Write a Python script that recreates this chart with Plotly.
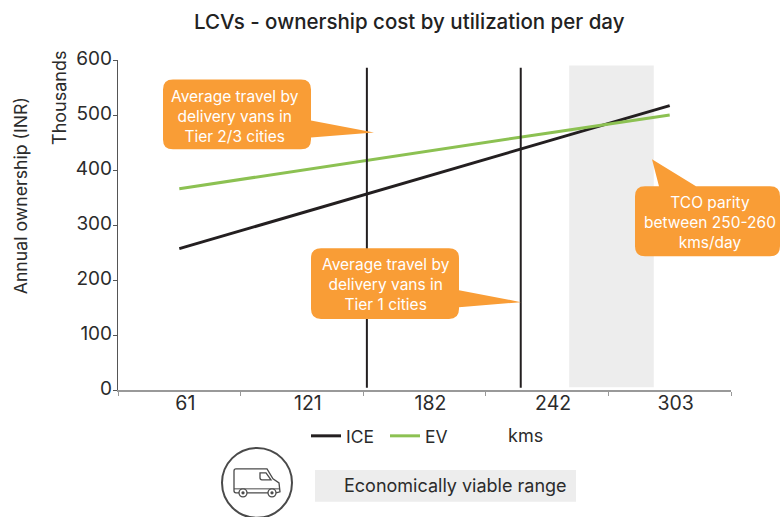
import plotly.graph_objects as go

# ---- data ----
title = "LCVs - ownership cost by utilization per day"
kms_labels = ["61", "121", "182", "242", "303"]
ice_values = [257, 322, 387, 452, 517]
ev_values = [366, 400, 433, 467, 500]
y_ticks = [0, 100, 200, 300, 400, 500, 600]
# vertical reference lines and shaded range, in category-axis units
tier2_x = 1.53
tier1_x = 2.785
ref_top = 586
ref_bottom = 4
band_x = [3.18, 3.87]
band_y = [5, 590]

W, H = 780, 517
L, R, T, B = 118, 731, 59.5, 390
FONT = "Inter, Liberation Sans, sans-serif"
INK = "#2b2b2b"
ORANGE = "#F99D36"
GREY = "#ededed"
BLACK = "#231f20"
GREEN = "#8cc152"


def px(x):
    return (x - L) / (R - L)


def py(y):
    return (B - y) / (B - T)


def P(x, y):
    return f"{px(x):.5f},{py(y):.5f}"


def callout(x0, y0, x1, y1, r, tail, edge):
    """Rounded box with a pointed tail; coordinates are page pixels."""
    parts = [f"M{P(x0 + r, y0)}"]
    if edge == "top":
        parts += [f"L{P(tail[0][0], y0)}", f"L{P(*tail[1])}", f"L{P(tail[2][0], y0)}"]
    parts += [f"L{P(x1 - r, y0)}", f"Q{P(x1, y0)} {P(x1, y0 + r)}"]
    if edge == "right":
        parts += [f"L{P(x1, tail[0][1])}", f"L{P(*tail[1])}", f"L{P(x1, tail[2][1])}"]
    parts += [f"L{P(x1, y1 - r)}", f"Q{P(x1, y1)} {P(x1 - r, y1)}",
              f"L{P(x0 + r, y1)}", f"Q{P(x0, y1)} {P(x0, y1 - r)}",
              f"L{P(x0, y0 + r)}", f"Q{P(x0, y0)} {P(x0 + r, y0)}", "Z"]
    return dict(type="path", xref="paper", yref="paper", path=" ".join(parts),
                fillcolor=ORANGE, line=dict(width=0), layer="above")


def stroke(path, w=1.3, color="#4a4a4a", fill="rgba(0,0,0,0)"):
    return dict(type="path", xref="paper", yref="paper", path=path,
                line=dict(color=color, width=w), fillcolor=fill, layer="above")


def circle(cx, cy, r, w=1.3, color="#4a4a4a", fill="white"):
    return dict(type="circle", xref="paper", yref="paper",
                x0=px(cx - r), x1=px(cx + r), y0=py(cy + r), y1=py(cy - r),
                line=dict(color=color, width=w), fillcolor=fill, layer="above")


fig = go.Figure()
fig.add_trace(go.Scatter(x=kms_labels, y=ice_values, name="ICE", mode="lines",
                         line=dict(color=BLACK, width=3)))
fig.add_trace(go.Scatter(x=kms_labels, y=ev_values, name="EV", mode="lines",
                         line=dict(color=GREEN, width=3)))

shapes = [
    dict(type="rect", xref="x", yref="y", x0=band_x[0], x1=band_x[1], y0=band_y[0], y1=band_y[1],
         fillcolor=GREY, line=dict(width=0), layer="below"),
    dict(type="line", xref="x", yref="y", x0=tier2_x, x1=tier2_x, y0=ref_bottom, y1=ref_top,
         line=dict(color=BLACK, width=2), layer="above"),
    dict(type="line", xref="x", yref="y", x0=tier1_x, x1=tier1_x, y0=ref_bottom, y1=ref_top,
         line=dict(color=BLACK, width=2), layer="above"),
    callout(163, 79, 311, 149, 10, [(311, 120), (374, 132), (311, 137)], "right"),
    callout(311, 248, 459, 319, 10, [(459, 290), (521, 302), (459, 307)], "right"),
    callout(635, 186, 780, 256, 10, [(659, 186), (652, 159), (696, 186)], "top"),
    # legend swatch for the viable range
    dict(type="rect", xref="paper", yref="paper", x0=px(315), x1=px(576), y0=py(502), y1=py(470),
         fillcolor=GREY, line=dict(width=0), layer="below"),
    # van icon
    circle(257, 483, 35, w=2, fill="white"),
    stroke(f"M{P(239, 493)} L{P(236, 493)} Q{P(234, 493)} {P(234, 491)} L{P(234, 471)} "
           f"Q{P(234, 469)} {P(236, 469)} L{P(267, 469)} L{P(273, 479)} L{P(279, 483)} "
           f"L{P(280, 492)} L{P(276, 493)} M{P(268, 493)} L{P(247, 493)}"),
    stroke(f"M{P(260, 473)} L{P(266, 473)} L{P(271, 480)} L{P(262, 480)} Q{P(260, 480)} {P(260, 478)} Z"),
    stroke(f"M{P(234, 489)} L{P(280, 489)}", w=1),
    circle(243, 493, 4),
    circle(272, 493, 4),
    circle(243, 493, 1, color="#4a4a4a", fill="#4a4a4a"),
    circle(272, 493, 1, color="#4a4a4a", fill="#4a4a4a"),
]


def note(x, y, text, size=15, color=INK, anchor="center", angle=0, weight=None):
    f = dict(family=FONT, size=size, color=color)
    if weight:
        f["weight"] = weight
    return dict(xref="paper", yref="paper", x=px(x), y=py(y), text=text, showarrow=False,
                xanchor=anchor, yanchor="middle", textangle=angle, font=f, align="center")


annotations = [
    note(409, 21, title, size=20.5, color="#222222", weight=500),
    note(20, 196, "Annual ownership (INR)", size=17.7, angle=-90),
    note(60, 97.5, "Thousands", size=18, angle=-90),
    note(235, 116, "Average travel by<br>delivery vans in<br>Tier 2/3 cities", size=15.5, color="white"),
    note(386, 284, "Average travel by<br>delivery vans in<br>Tier 1 cities", size=15.5, color="white"),
    note(710, 222.5, "TCO parity<br>between 250-260<br>kms/day", size=15.5, color="white"),
    note(525, 435.5, "kms", size=18),
    note(342, 486, "Economically viable range", size=18, anchor="left"),
]

fig.update_layout(
    width=W, height=H, autosize=False,
    margin=dict(l=L, r=W - R, t=T, b=H - B, pad=0),
    paper_bgcolor="white", plot_bgcolor="white",
    font=dict(family=FONT, color=INK, size=18),
    shapes=shapes, annotations=annotations,
    showlegend=True,
    legend=dict(orientation="h", x=px(306), y=py(418), xanchor="left", yanchor="top",
                font=dict(size=17.5, family=FONT, color=INK), itemwidth=30,
                entrywidth=34, entrywidthmode="pixels", bgcolor="rgba(0,0,0,0)",
                traceorder="normal"),
    xaxis=dict(type="category", categoryorder="array", categoryarray=kms_labels,
               range=[-0.5, 4.5], tickson="boundaries", ticks="outside", ticklen=4,
               tickcolor="#999999", showline=True, linecolor="#999999", linewidth=1.5,
               showgrid=False, zeroline=False, tickfont=dict(size=19.5), ticklabelshift=6,
               ticklabelstandoff=-5),
    yaxis=dict(range=[0, 600], tickvals=y_ticks, ticks="outside", ticklen=4, tickcolor="#555555",
               showline=True, linecolor="#555555", linewidth=1.2, showgrid=False, zeroline=False,
               tickfont=dict(size=19), ticklabelstandoff=-3, ticklabelshift=-2),
)

fig.write_html("out.html", post_script="document.body.style.margin='0';",
               config={"displayModeBar": False})
